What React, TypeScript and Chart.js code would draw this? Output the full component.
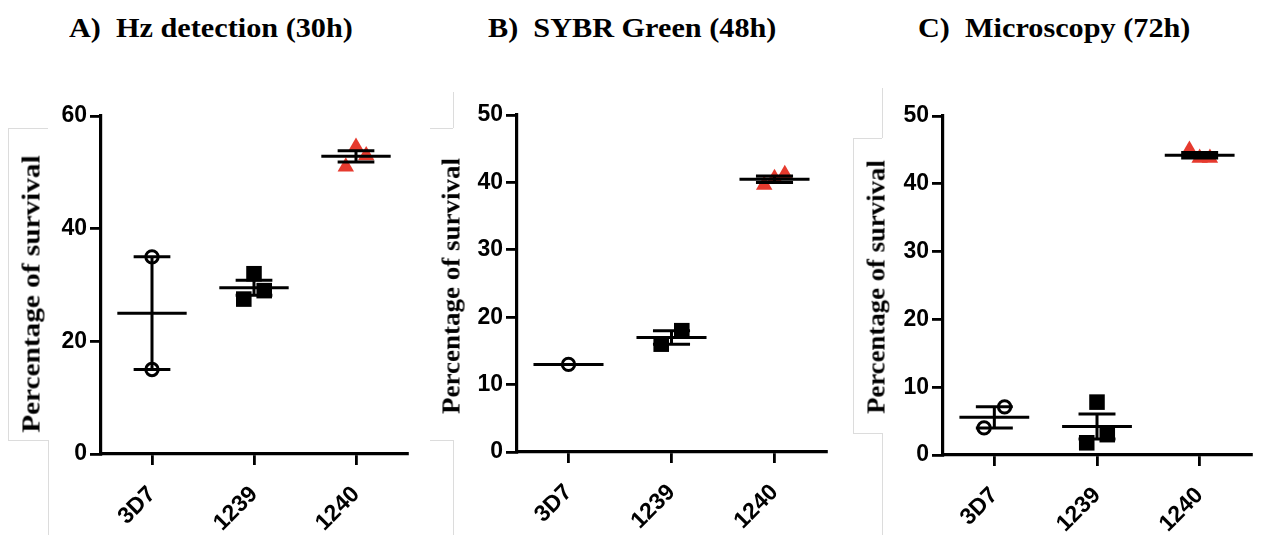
import React, { useEffect, useRef } from 'react';
import { Chart, registerables } from 'chart.js';

Chart.register(...registerables);

// ---- data ----
const categories = ['3D7', '1239', '1240'];

const hz3D7 = [35, 15];
const hz1239 = [27.5, 32, 29];
const hz1240 = [51, 54.5, 53];

const sybr3D7 = [13];
const sybr1239 = [16, 18];
const sybr1240 = [39.6, 40.6, 41.2];

const micro3D7 = [4.0, 7.1];
const micro1239 = [1.8, 7.8, 3.0];
const micro1240 = [45, 43.8, 43.8];

const hzTicks = [0, 20, 40, 60];
const sybrTicks = [0, 10, 20, 30, 40, 50];
const microTicks = [0, 10, 20, 30, 40, 50];

const panelTitles = ['A)  Hz detection (30h)', 'B)  SYBR Green (48h)', 'C)  Microscopy (72h)'];
const yTitle = 'Percentage of survival';

// ---- style ----
const RED = '#e63a2e';
const MEAN_HALF = 0.34;
const CAP_HALF = 0.18;
const TICK_FONT = { family: "'Liberation Sans', Arial, sans-serif", weight: 'bold' as const, size: 23 };

type Geom = { left: number; top: number; w: number; h: number; padTop: number; padRight: number; yw: number; xh: number };

function offsets(vals: number[], yMax: number) {
  const n = vals.length;
  const range = Math.max(...vals) - Math.min(...vals);
  if (n < 2 || range / yMax > 0.2) return vals.map(() => 0);
  return vals.map((_, k) => -0.1 + (0.2 * k) / (n - 1));
}

function summary(groups: number[][]) {
  const pts: { x: number; y: number | null }[] = [];
  groups.forEach((vals, i) => {
    const n = vals.length;
    const mean = vals.reduce((a, b) => a + b, 0) / n;
    pts.push({ x: i - MEAN_HALF, y: mean }, { x: i + MEAN_HALF, y: mean }, { x: i, y: null });
    if (n > 1) {
      const sd = Math.sqrt(vals.reduce((a, v) => a + (v - mean) ** 2, 0) / (n - 1));
      const sem = sd / Math.sqrt(n);
      pts.push({ x: i - CAP_HALF, y: mean + sem }, { x: i + CAP_HALF, y: mean + sem }, { x: i, y: null });
      pts.push({ x: i - CAP_HALF, y: mean - sem }, { x: i + CAP_HALF, y: mean - sem }, { x: i, y: null });
      pts.push({ x: i, y: mean - sem }, { x: i, y: mean + sem }, { x: i, y: null });
    }
  });
  return pts;
}

const markerStyles = [
  { pointStyle: 'circle', pointRadius: 6.2, pointBorderWidth: 3, pointBorderColor: '#000', pointBackgroundColor: '#fff' },
  { pointStyle: 'rect', pointRadius: 11, pointBorderWidth: 0, pointBorderColor: '#000', pointBackgroundColor: '#000' },
  { pointStyle: 'triangle', pointRadius: 9.5, pointBorderWidth: 0, pointBorderColor: RED, pointBackgroundColor: RED },
];

function makeConfig(groups: number[][], ticks: number[], g: Geom): any {
  const yMax = ticks[ticks.length - 1];
  const datasets: any[] = [
    {
      data: summary(groups),
      showLine: true,
      spanGaps: false,
      borderColor: '#000',
      borderWidth: 3,
      borderCapStyle: 'butt',
      pointRadius: 0,
      fill: false,
      tension: 0,
    },
  ];
  groups.forEach((vals, i) => {
    const off = offsets(vals, yMax);
    datasets.push({
      data: vals.map((v, k) => ({ x: i + off[k], y: v })),
      showLine: false,
      ...markerStyles[i],
    });
  });
  return {
    type: 'scatter',
    data: { datasets },
    options: {
      animation: false,
      responsive: false,
      devicePixelRatio: 1,
      events: [],
      layout: { padding: { left: 0, top: g.padTop, right: g.padRight, bottom: 0 } },
      plugins: { legend: { display: false }, tooltip: { enabled: false }, title: { display: false } },
      scales: {
        x: {
          type: 'linear',
          min: -0.5,
          max: 2.5,
          afterBuildTicks: (s: any) => {
            s.ticks = categories.map((_, i) => ({ value: i }));
          },
          afterFit: (s: any) => {
            s.height = g.xh;
          },
          ticks: {
            autoSkip: false,
            minRotation: 45,
            maxRotation: 45,
            padding: 16,
            color: '#000',
            font: TICK_FONT,
            callback: (v: any) => categories[v] ?? '',
          },
          grid: { display: true, drawOnChartArea: false, drawTicks: true, tickLength: 11, color: '#000', lineWidth: 2.8 },
          border: { display: true, color: '#000', width: 3.2 },
        },
        y: {
          type: 'linear',
          min: 0,
          max: yMax,
          afterBuildTicks: (s: any) => {
            s.ticks = ticks.map((v) => ({ value: v }));
          },
          afterFit: (s: any) => {
            s.width = g.yw;
          },
          ticks: { padding: 3, color: '#000', font: TICK_FONT },
          grid: { display: true, drawOnChartArea: false, drawTicks: true, tickLength: 11, color: '#000', lineWidth: 2.8 },
          border: { display: true, color: '#000', width: 3.2 },
        },
      },
    },
  };
}

function Panel({ groups, ticks, g }: { groups: number[][]; ticks: number[]; g: Geom }) {
  const ref = useRef<HTMLCanvasElement>(null);
  useEffect(() => {
    const chart = new Chart(ref.current as HTMLCanvasElement, makeConfig(groups, ticks, g));
    return () => chart.destroy();
  }, []);
  return (
    <canvas
      ref={ref}
      width={g.w}
      height={g.h}
      style={{ position: 'absolute', left: g.left, top: g.top, width: g.w, height: g.h }}
    />
  );
}

const geoms: Geom[] = [
  { left: 0, top: 60, w: 420, h: 475, padTop: 56, padRight: 13, yw: 101, xh: 81 },
  { left: 430, top: 60, w: 410, h: 475, padTop: 55, padRight: 14, yw: 87, xh: 83 },
  { left: 850, top: 60, w: 412, h: 475, padTop: 56, padRight: 11, yw: 93, xh: 80 },
];

const titlePos = [69, 488, 918];
const yTitlePos = [
  { x: 31, y: 294, s: 1.17 },
  { x: 451, y: 286, s: 1.08 },
  { x: 876, y: 287, s: 1.07 },
];

const SERIF = "'Liberation Serif', 'Times New Roman', serif";
const FAINT = '#dcdcdc';

function Line({ x, y, w, h }: { x: number; y: number; w: number; h: number }) {
  return <div style={{ position: 'absolute', left: x, top: y, width: w, height: h, background: FAINT }} />;
}

export default function App() {
  const data = [
    [hz3D7, hz1239, hz1240],
    [sybr3D7, sybr1239, sybr1240],
    [micro3D7, micro1239, micro1240],
  ];
  const tickSets = [hzTicks, sybrTicks, microTicks];
  return (
    <div style={{ position: 'absolute', left: 0, top: 0, width: 1262, height: 535, background: '#fff', overflow: 'hidden' }}>
      {/* faint frame remnants */}
      <Line x={8} y={128} w={40} h={1} />
      <Line x={8} y={128} w={1} h={312} />
      <Line x={8} y={440} w={40} h={1} />
      <Line x={48} y={440} w={1} h={95} />
      <Line x={430} y={128} w={23} h={1} />
      <Line x={453} y={92} w={1} h={36} />
      <Line x={430} y={440} w={23} h={1} />
      <Line x={453} y={440} w={1} h={95} />
      <Line x={882} y={88} w={1} h={50} />
      <Line x={853} y={138} w={29} h={1} />
      <Line x={853} y={138} w={1} h={295} />
      <Line x={853} y={433} w={29} h={1} />
      <Line x={882} y={433} w={1} h={102} />

      {geoms.map((g, i) => (
        <Panel key={i} groups={data[i]} ticks={tickSets[i]} g={g} />
      ))}

      {panelTitles.map((t, i) => (
        <div
          key={'t' + i}
          style={{
            position: 'absolute',
            left: titlePos[i],
            top: 15,
            font: `bold 27px ${SERIF}`,
            lineHeight: '27px',
            whiteSpace: 'pre',
            transform: 'scaleX(1.12)',
            transformOrigin: 'left center',
            color: '#000',
          }}
        >
          {t}
        </div>
      ))}

      {yTitlePos.map((p, i) => (
        <div
          key={'y' + i}
          style={{
            position: 'absolute',
            left: p.x,
            top: p.y,
            font: `bold 25px ${SERIF}`,
            lineHeight: '25px',
            whiteSpace: 'nowrap',
            transform: `translate(-50%, -50%) rotate(-90deg) scaleX(${p.s})`,
            color: '#000',
          }}
        >
          {yTitle}
        </div>
      ))}
    </div>
  );
}
